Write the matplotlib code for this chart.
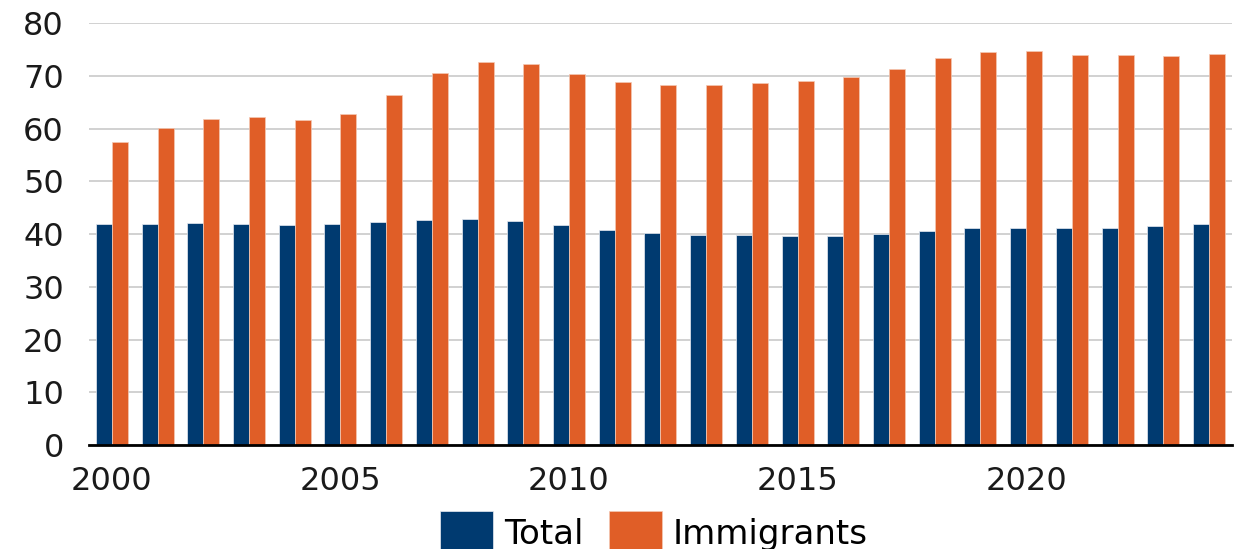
import numpy as np
import matplotlib.pyplot as plt

years = list(range(2000, 2025))
total = [41.9, 42.0, 42.1, 41.9, 41.8, 41.85, 42.3, 42.7, 42.8, 42.5,
         41.7, 40.8, 40.3, 39.9, 39.8, 39.6, 39.7, 40.0, 40.7, 41.1,
         41.2, 41.2, 41.1, 41.6, 41.9]
immigrants = [57.4, 60.1, 61.9, 62.3, 61.7, 62.8, 66.4, 70.6, 72.6, 72.2,
              70.4, 68.8, 68.3, 68.3, 68.7, 69.1, 69.9, 71.4, 73.4, 74.6,
              74.7, 74.0, 74.0, 73.9, 74.2]
year_ticks = [2000, 2005, 2010, 2015, 2020]
y_ticks = [0, 10, 20, 30, 40, 50, 60, 70, 80]

navy = '#003a70'
orange = '#e05e27'

plt.rcParams['font.family'] = ['DejaVu Sans']

fig = plt.figure(figsize=(12.43, 5.49), dpi=100)
ax = fig.add_axes([0.0716, 0.1894, 0.9194, 0.768])

x = np.arange(len(years))
w = 0.35
ax.bar(x - w / 2, total, width=w, color=navy, edgecolor='#e8ecf2',
       linewidth=0.5, label='Total', zorder=3)
ax.bar(x + w / 2, immigrants, width=w, color=orange, edgecolor='#f4c9b4',
       linewidth=0.5, label='Immigrants', zorder=3)

ax.set_xlim(-0.5, len(years) - 0.5)
ax.set_ylim(0, 80)
ax.set_yticks(y_ticks)
ax.set_xticks([years.index(y) for y in year_ticks])
ax.set_xticklabels([str(y) for y in year_ticks])

ax.yaxis.grid(True, color='#c9c9c9', linewidth=1.2, zorder=0)
for side in ['top', 'right', 'left']:
    ax.spines[side].set_visible(False)
ax.spines['bottom'].set_color('black')
ax.spines['bottom'].set_linewidth(2)
ax.spines['bottom'].set_zorder(4)
ax.tick_params(axis='both', length=0, labelsize=23, colors='#1a1a1a')
ax.tick_params(axis='y', pad=18)
ax.tick_params(axis='x', pad=15)

# legend sits low, partly running off the bottom edge
fig.legend(loc='upper center', bbox_to_anchor=(0.526, 1 - 511 / 549),
           ncol=2, frameon=False, fontsize=24.5, handlelength=1.55,
           handleheight=1.6, handletextpad=0.33, columnspacing=0.75,
           borderpad=0, borderaxespad=0)

fig.savefig('out.png', dpi=100)
